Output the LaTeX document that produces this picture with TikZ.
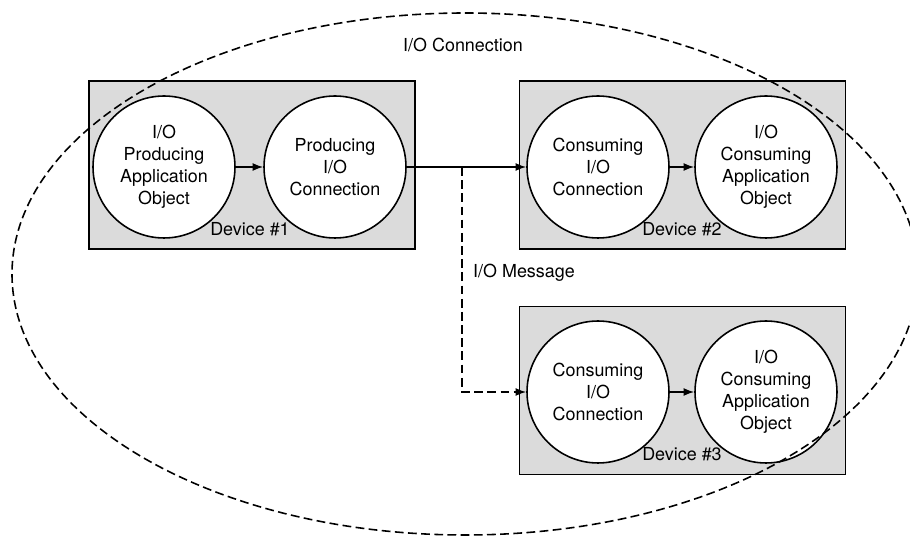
\documentclass[tikz,border=0pt]{standalone}
\usepackage{fontspec}
\setmainfont{TeX Gyre Heros}
\usetikzlibrary{arrows.meta}

\begin{document}
\begin{tikzpicture}[x=0.02cm,y=-0.02cm,
	every node/.style={font=\fontsize{10.2}{12.6}\selectfont},
	device/.style={shape=rectangle,draw,line width=0.9pt,fill=black!14,minimum width=6.52cm,minimum height=3.36cm},
	obj/.style={shape=circle,draw,line width=0.9pt,fill=white,minimum size=2.84cm,align=center,inner sep=0pt},
	flow/.style={line width=0.9pt,-{Latex[length=6pt,width=4.5pt]}},
	msgline/.style={line width=0.9pt,dash pattern=on 5pt off 2.5pt}]
	\useasboundingbox (0,0) rectangle (910,536);

	\node[device] (d1) at (252,165) {};
	\node[device] (d2) at (682.5,165) {};
	\node[device] (d3) at (682.5,390.5) {};

	\node[obj] (1) at (164,167) {I/O\\Producing\\Application\\Object};
	\node[obj] (2) at (335,167) {Producing\\I/O\\Connection};
	\node[obj] (3) at (598,167) {Consuming\\I/O\\Connection};
	\node[obj] (4) at (766,167) {I/O\\Consuming\\Application\\Object};
	\node[obj] (5) at (598,392) {Consuming\\I/O\\Connection};
	\node[obj] (6) at (766,392) {I/O\\Consuming\\Application\\Object};

	\node (l1) at (250,229) {Device \#1};
	\node (l2) at (682,229) {Device \#2};
	\node (l3) at (682,454) {Device \#3};
	\node (conn) at (463,45) {I/O Connection};
	\node[anchor=west] (msg) at (467,273) {I/O Message};

	\coordinate (split) at (462,167);

	\path [flow] (1) edge (2);
	\path [flow] (2) edge (3);
	\path [flow] (3) edge (4);
	\path [flow] (5) edge (6);
	\draw [msgline,-{Latex[length=6pt,width=4.5pt]}] (split) |- (5);

	\draw [msgline] (465,274) ellipse [x radius=453, y radius=261];
\end{tikzpicture}
\end{document}
